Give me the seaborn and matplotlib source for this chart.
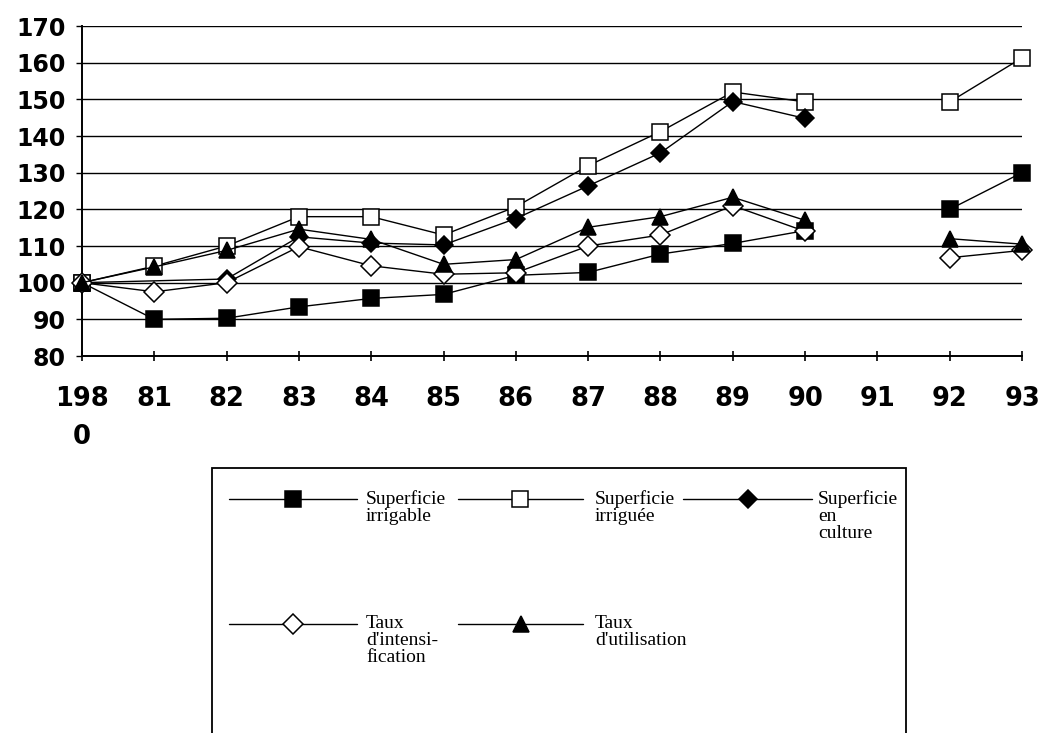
import numpy as np
import pandas as pd
import seaborn as sns
import matplotlib.pyplot as plt
import matplotlib.transforms as mtransforms
from matplotlib.lines import Line2D
from matplotlib.patches import Rectangle

nan = np.nan

# Index values (1980 = 100)
years = list(range(1980, 1994))
year_labels = ["198\n0", "81", "82", "83", "84", "85", "86", "87", "88", "89", "90", "91", "92", "93"]

sup_irrigable = [100, 90.0, 90.3, 93.4, 95.7, 96.8, 102.0, 102.8, 107.8, 110.7, 114.2, nan, 120.0, 130.0]
sup_irriguee = [100, 104.5, 110.0, 118.0, 118.0, 113.0, 120.7, 131.9, 141.2, 152.0, 149.3, nan, 149.3, 161.3]
sup_culture = [100, nan, 101.0, 112.5, 110.8, 110.3, 117.5, 126.4, 135.4, 149.4, 144.8, nan, nan, nan]
taux_intens = [100, 97.5, 100.0, 109.8, 104.6, 102.3, 102.7, 110.0, 113.0, 121.0, 114.0, nan, 106.8, 108.8]
taux_util = [100, 104.3, 108.8, 114.6, 111.8, 105.0, 106.3, 115.1, 118.0, 123.3, 117.0, nan, 112.0, 110.5]

series_names = ["Superficie\nirrigable", "Superficie\nirriguée", "Superficie\nen\nculture",
                "Taux\nd'intensi-\nfication", "Taux\nd'utilisation"]
series_values = [sup_irrigable, sup_irriguee, sup_culture, taux_intens, taux_util]

# marker, face colour, size
styles = [("s", "black", 11), ("s", "white", 11.5), ("D", "black", 9.5),
          ("D", "white", 10), ("^", "black", 11)]

rows = []
for name, vals in zip(series_names, series_values):
    for y, v in zip(years, vals):
        rows.append({"series": name, "year": y, "value": v})
df = pd.DataFrame(rows).dropna()
# no data for 1991: the curves are broken there
df["segment"] = (df["year"] >= 1992).astype(int)

sns.set_theme(style="white")
plt.rcParams["font.family"] = ["DejaVu Sans"]

W, H = 1038, 733
fig = plt.figure(figsize=(W / 100, H / 100), dpi=100)
ax = fig.add_axes([82 / W, 1 - 356 / H, 940 / W, 330 / H])

for i, ((name, vals), (mk, fc, ms)) in enumerate(zip(zip(series_names, series_values), styles)):
    sub = df[df["series"] == name]
    sns.lineplot(data=sub, x="year", y="value", units="segment", estimator=None,
                 color="black", marker=mk, markersize=ms, markerfacecolor=fc,
                 markeredgecolor="black", markeredgewidth=1.1, linewidth=1.0,
                 ax=ax, legend=False, clip_on=False, zorder=3 + i)

ax.set_xlim(1980, 1993)
ax.set_ylim(80, 170)
ax.set_xticks(years)
ax.set_xticklabels(year_labels, fontsize=18.5, fontweight="bold", linespacing=1.6)
ax.set_yticks(range(80, 171, 10))
ax.set_yticklabels([str(v) for v in range(80, 171, 10)], fontsize=17, fontweight="bold")
ax.set_xlabel("")
ax.set_ylabel("")

# keep the last year label inside the figure
last = ax.get_xticklabels()[-1]
last.set_transform(last.get_transform() + mtransforms.ScaledTranslation(-4 / 72, 0, fig.dpi_scale_trans))

ax.grid(axis="y", color="black", linewidth=1.0)
ax.grid(axis="x", visible=False)
ax.set_axisbelow(True)
for side in ("top", "right"):
    ax.spines[side].set_visible(False)
for side in ("left", "bottom"):
    ax.spines[side].set_color("black")
    ax.spines[side].set_linewidth(1.4)
ax.tick_params(axis="x", direction="inout", length=7, width=1.2, color="black", pad=18, labelcolor="black")
ax.tick_params(axis="y", direction="out", length=4, width=1.0, color="black", pad=8, labelcolor="black")
ax.tick_params(left=True, bottom=True)


def fx(x):
    return x / W


def fy(y):
    return 1 - y / H


# Legend box (runs past the lower edge of the figure)
fig.add_artist(Rectangle((fx(212), fy(H + 20)), fx(906) - fx(212), fy(468) - fy(H + 20),
                         transform=fig.transFigure, facecolor="white", edgecolor="black",
                         linewidth=1.3, clip_on=False, zorder=1))

legend_slots = [
    (229, 357, 293, 366, 499),
    (458, 583, 520, 595, 499),
    (683, 812, 748, 818, 499),
    (229, 357, 293, 366, 624),
    (458, 583, 521, 595, 624),
]
for (x0, x1, xm, xt, yl), name, (mk, fc, ms) in zip(legend_slots, series_names, styles):
    fig.add_artist(Line2D([fx(x0), fx(x1)], [fy(yl), fy(yl)], transform=fig.transFigure,
                          color="black", linewidth=1.0, zorder=2))
    fig.add_artist(Line2D([fx(xm)], [fy(yl)], transform=fig.transFigure, marker=mk,
                          markersize=ms, markerfacecolor=fc, markeredgecolor="black",
                          markeredgewidth=1.1, linestyle="none", zorder=3))
    fig.text(fx(xt), fy(yl - 9), name, ha="left", va="top", fontsize=14,
             family=["Liberation Serif", "DejaVu Serif"], linespacing=1.0, color="black")

fig.savefig("out.png", dpi=100)
